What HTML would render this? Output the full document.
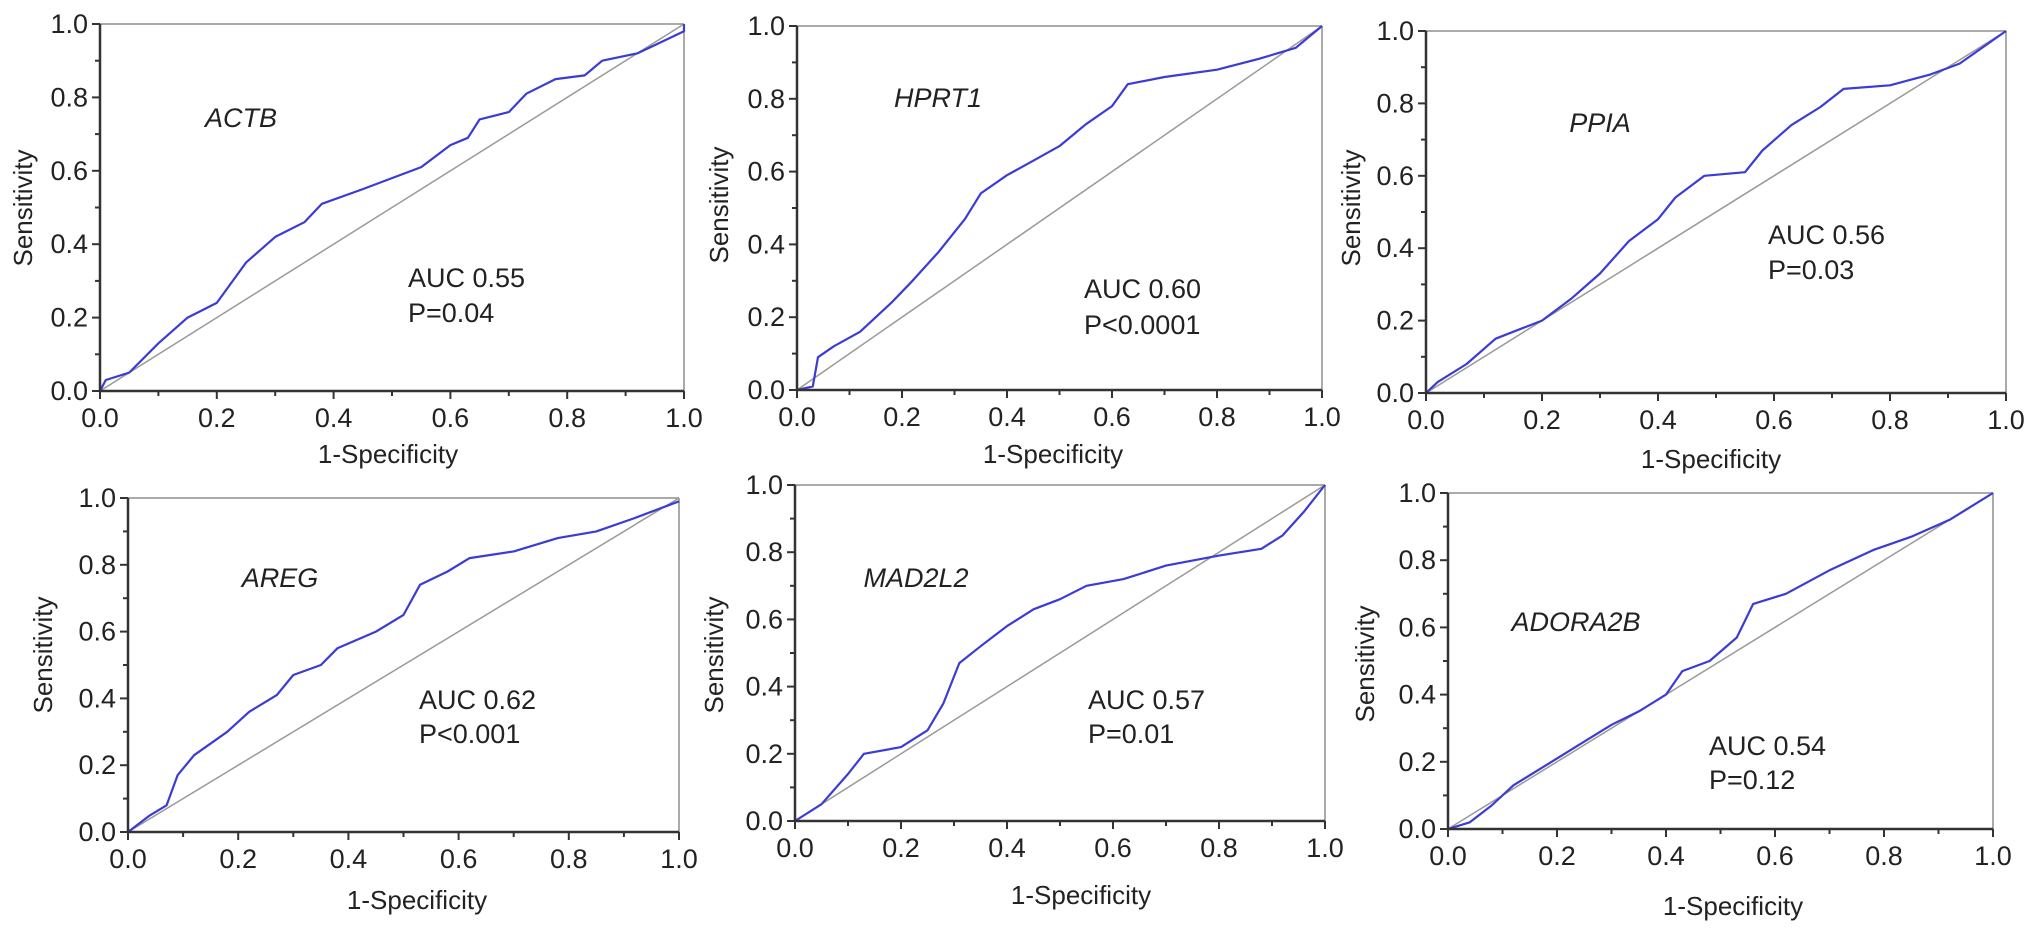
<!DOCTYPE html>
<html><head><meta charset="utf-8"><style>
html,body{margin:0;padding:0;background:#fff;}
svg{display:block;font-family:"Liberation Sans",sans-serif;}
</style></head><body>
<svg id="c" width="2032" height="929" viewBox="0 0 2032 929" xmlns="http://www.w3.org/2000/svg"></svg>
<script>
const genes = ["ACTB","HPRT1","PPIA","AREG","MAD2L2","ADORA2B"];
const aucLabels = ["AUC 0.55","AUC 0.60","AUC 0.56","AUC 0.62","AUC 0.57","AUC 0.54"];
const pLabels = ["P=0.04","P<0.0001","P=0.03","P<0.001","P=0.01","P=0.12"];
const tickLabels = ["0.0","0.2","0.4","0.6","0.8","1.0"];
const tickValues = [0,0.2,0.4,0.6,0.8,1.0];
const fprACTB = [0,0.01,0.05,0.1,0.15,0.2,0.25,0.3,0.35,0.38,0.45,0.5,0.55,0.6,0.63,0.65,0.7,0.73,0.78,0.83,0.86,0.92,0.96,1,1];
const tprACTB = [0,0.03,0.05,0.13,0.2,0.24,0.35,0.42,0.46,0.51,0.55,0.58,0.61,0.67,0.69,0.74,0.76,0.81,0.85,0.86,0.9,0.92,0.95,0.98,1];
const fprHPRT1 = [0,0.03,0.04,0.07,0.12,0.18,0.22,0.27,0.32,0.35,0.4,0.45,0.5,0.55,0.6,0.63,0.7,0.8,0.88,0.95,1];
const tprHPRT1 = [0,0.01,0.09,0.12,0.16,0.24,0.3,0.38,0.47,0.54,0.59,0.63,0.67,0.73,0.78,0.84,0.86,0.88,0.91,0.94,1];
const fprPPIA = [0,0.02,0.07,0.12,0.2,0.25,0.3,0.35,0.4,0.43,0.48,0.55,0.58,0.63,0.68,0.72,0.8,0.87,0.92,1];
const tprPPIA = [0,0.03,0.08,0.15,0.2,0.26,0.33,0.42,0.48,0.54,0.6,0.61,0.67,0.74,0.79,0.84,0.85,0.88,0.91,1];
const fprAREG = [0,0.04,0.07,0.09,0.12,0.18,0.22,0.27,0.3,0.35,0.38,0.45,0.5,0.53,0.58,0.62,0.7,0.78,0.85,0.92,1];
const tprAREG = [0,0.05,0.08,0.17,0.23,0.3,0.36,0.41,0.47,0.5,0.55,0.6,0.65,0.74,0.78,0.82,0.84,0.88,0.9,0.94,0.99];
const fprMAD2L2 = [0,0.05,0.1,0.13,0.2,0.25,0.28,0.31,0.35,0.4,0.45,0.5,0.55,0.62,0.7,0.8,0.88,0.92,0.96,1];
const tprMAD2L2 = [0,0.05,0.14,0.2,0.22,0.27,0.35,0.47,0.52,0.58,0.63,0.66,0.7,0.72,0.76,0.79,0.81,0.85,0.92,1];
const fprADORA2B = [0,0.04,0.08,0.12,0.18,0.25,0.3,0.35,0.4,0.43,0.48,0.53,0.56,0.62,0.7,0.78,0.85,0.92,0.97,1];
const tprADORA2B = [0,0.02,0.07,0.13,0.19,0.26,0.31,0.35,0.4,0.47,0.5,0.57,0.67,0.7,0.77,0.83,0.87,0.92,0.97,1];

const fprs=[fprACTB,fprHPRT1,fprPPIA,fprAREG,fprMAD2L2,fprADORA2B];
const tprs=[tprACTB,tprHPRT1,tprPPIA,tprAREG,tprMAD2L2,tprADORA2B];
const frames=[[100,684,24,391],[797,1322,26,390],[1426,2006,31,393],[128,679,498,832],[795,1325,485,821],[1448,1993,493,829]];
const geneXY=[[241,127],[938,107],[1600,132],[280,587],[916,587],[1576,631]];
const aucXY=[[408,287,322],[1084,298,334],[1768,244,279],[419,709,743],[1088,709,743],[1709,755,789]];
const xtXY=[[388,463],[1053,463],[1711,468],[417,909],[1081,904],[1733,915]];
const ytXY=[[23,208],[719,205],[1351,208],[43,655],[714,655],[1365,664]];
const NS="http://www.w3.org/2000/svg";
const svg=document.getElementById('c');
function mk(tag,attrs,parent){const e=document.createElementNS(NS,tag);for(const k in attrs)e.setAttribute(k,attrs[k]);(parent||svg).appendChild(e);return e;}
genes.forEach((g,i)=>{
  const [x0,x1,y1,y0]=frames[i];
  const sx=v=>x0+v*(x1-x0), sy=v=>y0-v*(y0-y1);
  const grp=mk('g',{});
  
  
  const top=mk('line',{x1:x0,y1:y1,x2:x1,y2:y1,stroke:'#aaa','stroke-width':2},grp);
  
  
  const right=mk('line',{x1:x1,y1:y1,x2:x1,y2:y0,stroke:'#aaa','stroke-width':2},grp);
  
  
  const diag=mk('line',{x1:sx(0),y1:sy(0),x2:sx(1),y2:sy(1),stroke:'#999','stroke-width':1.5},grp);
  
  
  const pts=fprs[i].map((f,j)=>sx(f).toFixed(1)+','+sy(tprs[i][j]).toFixed(1)).join(' ');
  const curve=mk('polyline',{points:pts,fill:'none',stroke:'#3b3bd6','stroke-width':2.2,'stroke-linejoin':'round'},grp);
  
  
  const xa=mk('line',{x1:x0,y1:y0,x2:x1,y2:y0,stroke:'#333','stroke-width':2.5},grp);
  
  
  const ya=mk('line',{x1:x0,y1:y0,x2:x0,y2:y1,stroke:'#333','stroke-width':2.5},grp);
  
  
  for(let k=0;k<=10;k++){
    const v=k/10, L=(k%2==0)?8:5;
    mk('line',{x1:sx(v),y1:y0,x2:sx(v),y2:y0+L,stroke:'#333','stroke-width':2},grp);
    mk('line',{x1:x0,y1:sy(v),x2:x0-L,y2:sy(v),stroke:'#333','stroke-width':2},grp);
  }
  tickValues.forEach((v,k)=>{
    const tx=mk('text',{x:sx(v),y:y0+36,'font-size':27,'text-anchor':'middle',fill:'#222'},grp);
    tx.textContent=tickLabels[k];
    
    
    const ty=mk('text',{x:x0-12,y:sy(v)+9,'font-size':27,'text-anchor':'end',fill:'#222'},grp);
    ty.textContent=tickLabels[k];
    
    
  });
  const xt=mk('text',{x:xtXY[i][0],y:xtXY[i][1],'font-size':26,'text-anchor':'middle',fill:'#222'},grp);
  xt.textContent='1-Specificity';
  
  
  const yt=mk('text',{x:0,y:0,'font-size':26,'text-anchor':'middle',fill:'#222',transform:'translate('+(ytXY[i][0]+9)+','+ytXY[i][1]+') rotate(-90)'},grp);
  yt.textContent='Sensitivity';
  
  
  const gn=mk('text',{x:geneXY[i][0],y:geneXY[i][1],'font-size':27,'font-style':'italic','text-anchor':'middle',fill:'#222'},grp);
  gn.textContent=g;
  
  
  const a=mk('text',{x:aucXY[i][0],y:aucXY[i][1],'font-size':27,fill:'#222'},grp);
  a.textContent=aucLabels[i];
  
  
  const p=mk('text',{x:aucXY[i][0],y:aucXY[i][2],'font-size':27,fill:'#222'},grp);
  p.textContent=pLabels[i];
  
  
});
</script>
</body></html>
